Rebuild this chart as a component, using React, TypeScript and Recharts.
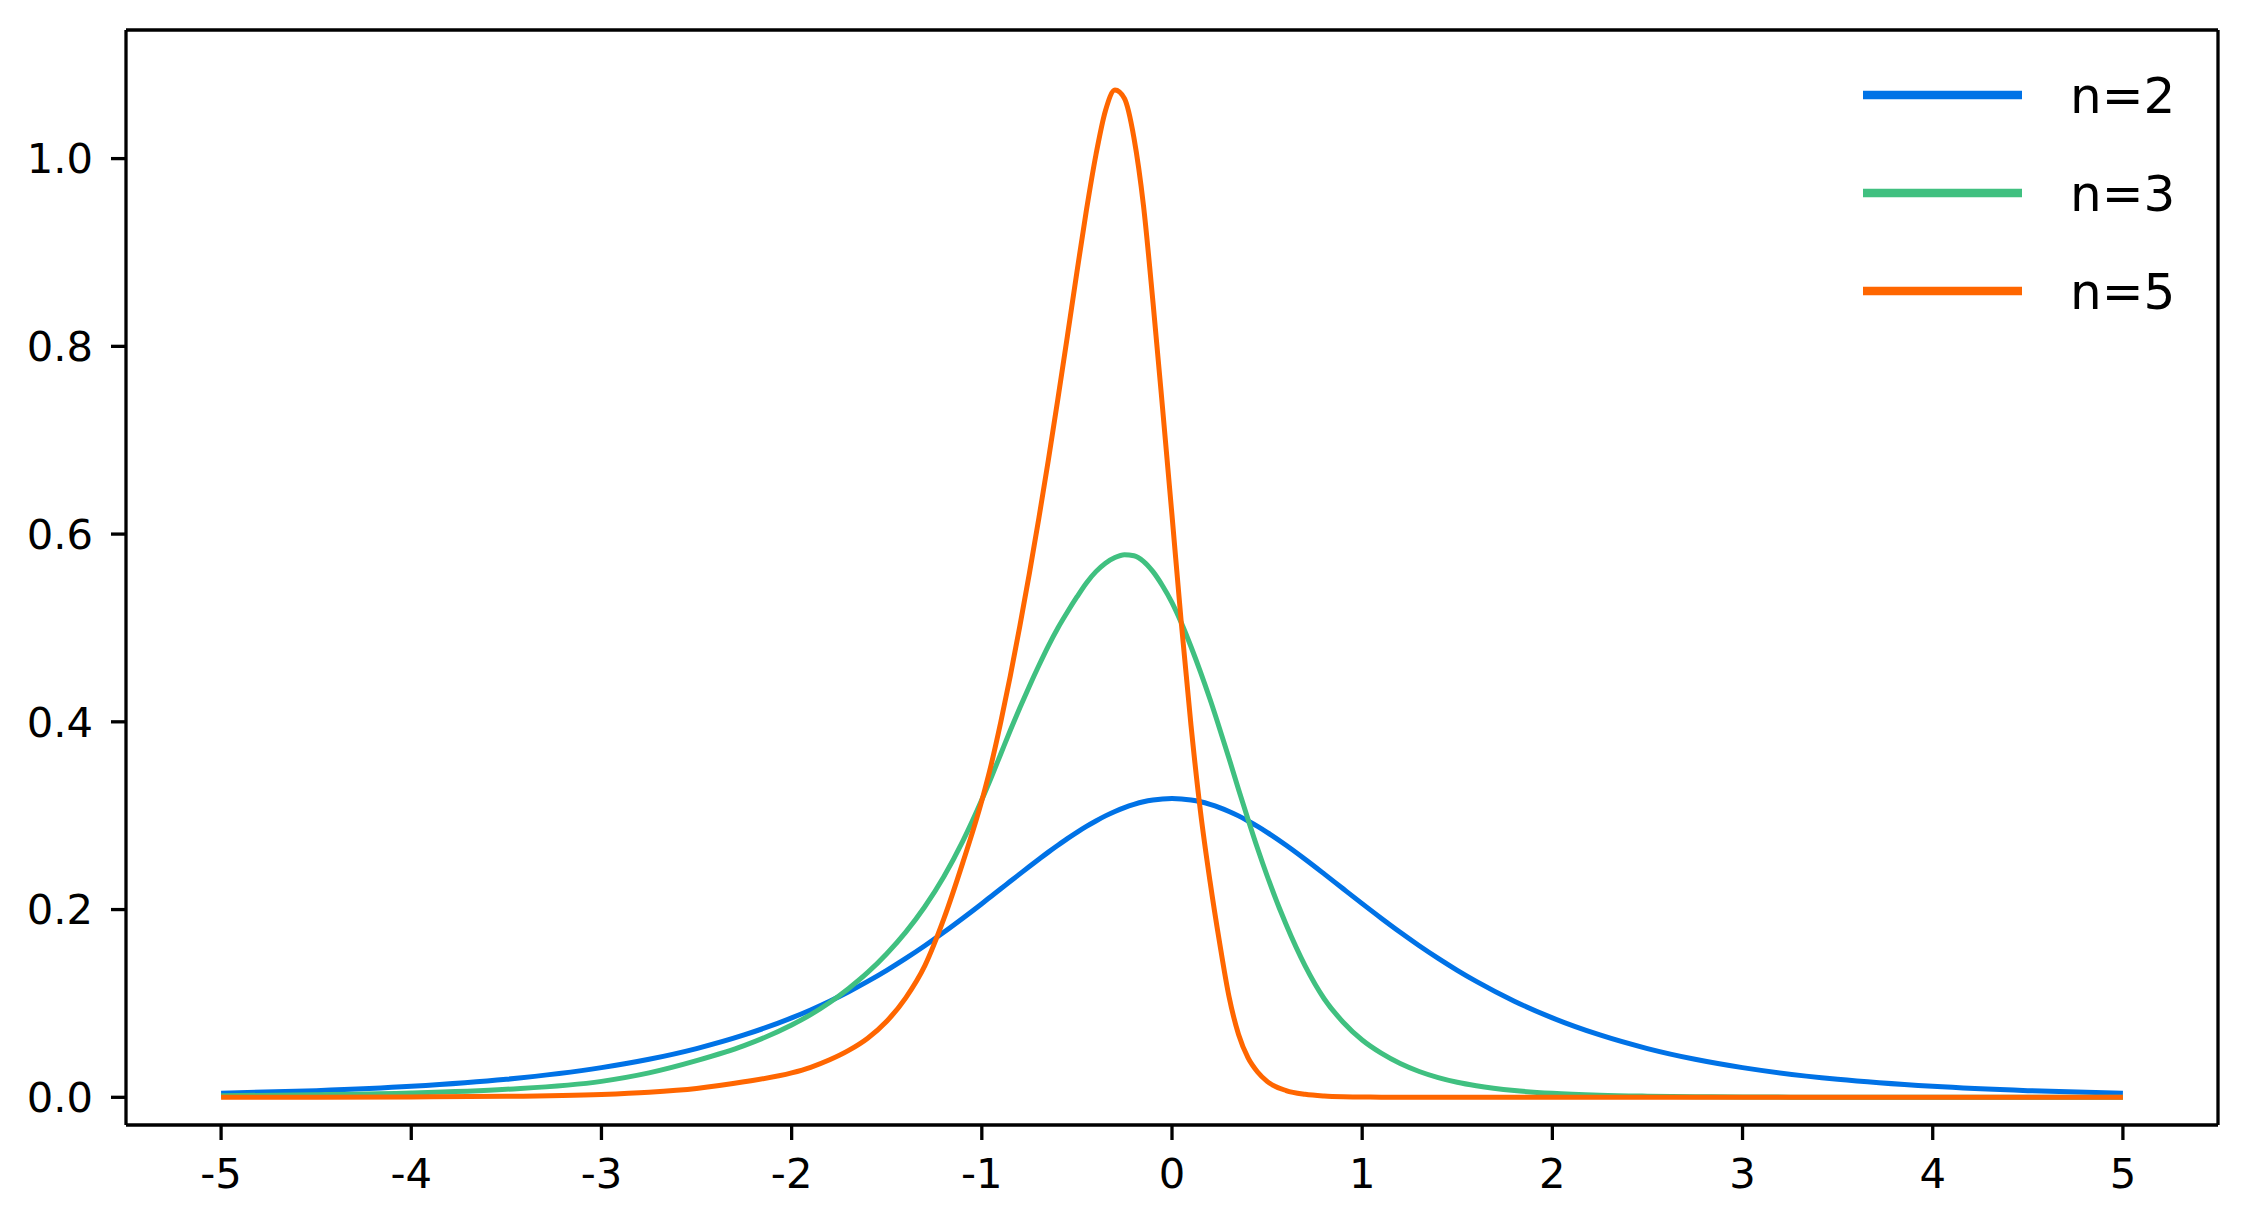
import React from 'react';
import { LineChart, Line, XAxis, YAxis, Legend, ReferenceLine } from 'recharts';

const FONT = '"DejaVu Sans", sans-serif';

// x positions (shared grid)
const xValues = [
  -5, -4.5, -4, -3.5, -3, -2.75, -2.5, -2.25, -2,
  -1.9, -1.8, -1.7, -1.6, -1.5, -1.4, -1.3, -1.2, -1.1, -1,
  -0.95, -0.9, -0.85, -0.8, -0.75, -0.7, -0.65, -0.6, -0.55, -0.5,
  -0.45, -0.4, -0.35, -0.3, -0.25, -0.2, -0.15, -0.1, -0.05, 0,
  0.05, 0.1, 0.15, 0.2, 0.25, 0.3, 0.35, 0.4, 0.45, 0.5,
  0.6, 0.7, 0.8, 0.9, 1, 1.1, 1.2, 1.3, 1.4, 1.5, 1.6,
  1.8, 2, 2.25, 2.5, 2.75, 3, 3.5, 4, 4.5, 5,
];

// n=2
const n2Values = [
  0.0043, 0.0071, 0.0117, 0.0192, 0.0316, 0.0405, 0.0519, 0.0664, 0.0846,
  0.0931, 0.1024, 0.1125, 0.1235, 0.1353, 0.148, 0.1615, 0.1758, 0.1908, 0.2063,
  0.2142, 0.2221, 0.2301, 0.238, 0.2459, 0.2536, 0.2612, 0.2685, 0.2756, 0.2823,
  0.2886, 0.2944, 0.2998, 0.3045, 0.3086, 0.312, 0.3148, 0.3167, 0.3179, 0.3183,
  0.3179, 0.3167, 0.3148, 0.312, 0.3086, 0.3045, 0.2998, 0.2944, 0.2886, 0.2823,
  0.2685, 0.2536, 0.238, 0.2221, 0.2063, 0.1908, 0.1758, 0.1615, 0.148, 0.1353, 0.1235,
  0.1024, 0.0846, 0.0664, 0.0519, 0.0405, 0.0316, 0.0192, 0.0117, 0.0071, 0.0043,
];

// n=3
const n3Values = [
  0.0017, 0.0027, 0.0045, 0.0085, 0.017, 0.026, 0.039, 0.055, 0.077,
  0.088, 0.101, 0.116, 0.133, 0.153, 0.176, 0.203, 0.235, 0.273, 0.317,
  0.341, 0.366, 0.391, 0.415, 0.438, 0.46, 0.481, 0.5, 0.517, 0.533,
  0.548, 0.56, 0.569, 0.575, 0.578, 0.577, 0.571, 0.56, 0.545, 0.527,
  0.505, 0.48, 0.453, 0.424, 0.393, 0.361, 0.328, 0.296, 0.265, 0.236,
  0.184, 0.14, 0.105, 0.08, 0.061, 0.047, 0.036, 0.0275, 0.021, 0.016, 0.0123,
  0.0072, 0.0042, 0.0022, 0.0012, 0.0006, 0.0003, 0.0001, 0, 0, 0,
];

// n=5
const n5Values = [
  0, 0.0001, 0.0004, 0.001, 0.0031, 0.0055, 0.0095, 0.0165, 0.026,
  0.032, 0.04, 0.05, 0.063, 0.081, 0.106, 0.14, 0.19, 0.25, 0.316,
  0.355, 0.4, 0.449, 0.502, 0.558, 0.617, 0.679, 0.744, 0.811, 0.879,
  0.945, 1.004, 1.051, 1.073, 1.064, 1.022, 0.95, 0.847, 0.735, 0.62,
  0.503, 0.396, 0.304, 0.23, 0.165, 0.107, 0.067, 0.042, 0.027, 0.017,
  0.0072, 0.0032, 0.0014, 0.0006, 0.0003, 0.0001, 0, 0, 0, 0, 0,
  0, 0, 0, 0, 0, 0, 0, 0, 0, 0,
];

const xTicks = [-5, -4, -3, -2, -1, 0, 1, 2, 3, 4, 5];
const yTicks = [0, 0.2, 0.4, 0.6, 0.8, 1.0];
const seriesNames = ['n=2', 'n=3', 'n=5'];
const seriesColors = ['#0072e6', '#40c080', '#ff6600'];

const X_DOMAIN: [number, number] = [-5.5, 5.5];
const Y_DOMAIN: [number, number] = [-0.0295, 1.137];

const data = xValues.map((x, i) => ({
  x,
  n2: n2Values[i],
  n3: n3Values[i],
  n5: n5Values[i],
}));

const spine = { stroke: '#000', strokeWidth: 3.3 };
const tickStyle = { fill: '#000', fontSize: 41.7, fontFamily: FONT };

function LegendContent(props: any) {
  const payload = props.payload || [];
  return (
    <svg width={380} height={300} style={{ display: 'block', overflow: 'visible' }}>
      {payload.map((item: any, i: number) => {
        const cy = 57 + i * 98;
        return (
          <g key={i}>
            <line x1={15} x2={174} y1={cy} y2={cy} stroke={item.color} strokeWidth={8.3} />
            <text x={222} y={cy + 18} fontSize={50} fontFamily={FONT} fill="#000">
              {item.value}
            </text>
          </g>
        );
      })}
    </svg>
  );
}

export default function App() {
  return (
    <div style={{ width: 2232, height: 1200, background: '#fff' }}>
      <LineChart
        width={2232}
        height={1200}
        data={data}
        margin={{ top: 22, right: 22, bottom: 23, left: 18 }}
      >
        <XAxis
          xAxisId="b"
          type="number"
          dataKey="x"
          domain={X_DOMAIN}
          allowDataOverflow
          ticks={xTicks}
          interval={0}
          tickFormatter={(v: number) => String(v)}
          height={60}
          tickSize={15}
          tickMargin={18}
          axisLine={spine}
          tickLine={spine}
          tick={tickStyle}
        />
        <YAxis
          yAxisId="l"
          type="number"
          domain={Y_DOMAIN}
          allowDataOverflow
          ticks={yTicks}
          interval={0}
          tickFormatter={(v: number) => v.toFixed(1)}
          width={100}
          tickSize={15}
          tickMargin={18}
          axisLine={spine}
          tickLine={spine}
          tick={tickStyle}
        />
        <ReferenceLine
          xAxisId="b"
          yAxisId="l"
          y={Y_DOMAIN[1]}
          stroke="#000"
          strokeWidth={3.3}
          ifOverflow="visible"
        />
        <ReferenceLine
          xAxisId="b"
          yAxisId="l"
          x={X_DOMAIN[1]}
          stroke="#000"
          strokeWidth={3.3}
          ifOverflow="visible"
        />
        <Line
          xAxisId="b"
          yAxisId="l"
          type="monotone"
          dataKey="n2"
          name={seriesNames[0]}
          stroke={seriesColors[0]}
          strokeWidth={5}
          dot={false}
          activeDot={false}
          isAnimationActive={false}
        />
        <Line
          xAxisId="b"
          yAxisId="l"
          type="monotone"
          dataKey="n3"
          name={seriesNames[1]}
          stroke={seriesColors[1]}
          strokeWidth={5}
          dot={false}
          activeDot={false}
          isAnimationActive={false}
        />
        <Line
          xAxisId="b"
          yAxisId="l"
          type="monotone"
          dataKey="n5"
          name={seriesNames[2]}
          stroke={seriesColors[2]}
          strokeWidth={5}
          dot={false}
          activeDot={false}
          isAnimationActive={false}
        />
        <Legend
          layout="vertical"
          align="center"
          verticalAlign="middle"
          content={<LegendContent />}
          wrapperStyle={{ position: 'absolute', left: 1840, top: 30, width: 380, height: 300 }}
        />
      </LineChart>
    </div>
  );
}
